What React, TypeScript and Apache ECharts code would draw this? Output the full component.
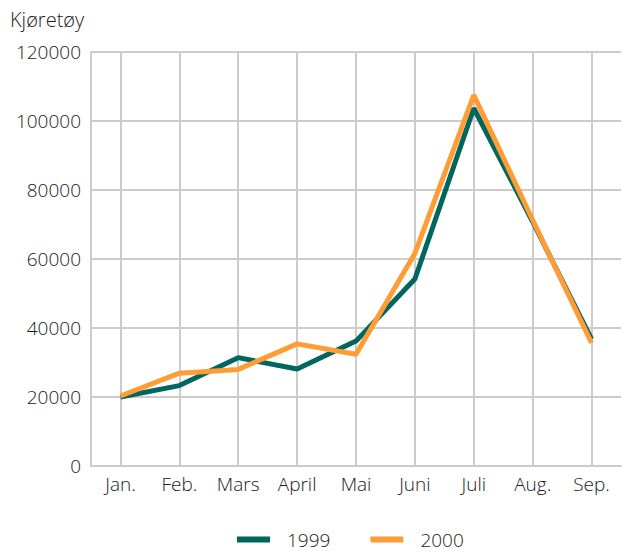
import React, { useEffect, useRef } from "react";
import * as echarts from "echarts";

const categories = ["Jan.", "Feb.", "Mars", "April", "Mai", "Juni", "Juli", "Aug.", "Sep."];
const series1999 = [20000, 23300, 31400, 28100, 36200, 54200, 103700, 70800, 36800];
const series2000 = [20300, 26900, 28000, 35400, 32400, 61600, 107500, 71300, 35700];
const yTicks = { min: 0, max: 120000, interval: 20000 };

const FONT = "'Open Sans', 'Noto Sans', sans-serif";
const TXT = "#1a1a1a";

export default function App() {
  const ref = useRef<HTMLDivElement>(null);
  useEffect(() => {
    document.body.style.margin = "0";
    if (!ref.current) return;
    const chart = echarts.init(ref.current, undefined, { renderer: "svg" });
    chart.setOption({
      animation: false,
      backgroundColor: "#ffffff",
      textStyle: { fontFamily: FONT },
      graphic: [
        {
          type: "text",
          left: 10,
          top: 9,
          style: { text: "Kjøretøy", fontSize: 20, fontWeight: 300, fontFamily: FONT, fill: TXT },
        },
      ],
      grid: { left: 91, top: 52, right: 3, bottom: 88, containLabel: false },
      legend: {
        bottom: 0,
        left: 232,
        icon: "rect",
        itemWidth: 33,
        itemHeight: 6,
        itemGap: 40,
        textStyle: { fontSize: 19, fontWeight: 300, color: TXT, fontFamily: FONT, padding: [0, 0, 0, 12] },
        data: ["1999", "2000"],
      },
      xAxis: {
        type: "category",
        data: categories,
        boundaryGap: true,
        axisLine: { show: true, lineStyle: { color: "#cccccc", width: 2 } },
        axisTick: { show: false },
        axisLabel: { fontSize: 19, fontWeight: 300, color: TXT, margin: 8, fontFamily: FONT },
        splitLine: { show: true, alignWithLabel: true, lineStyle: { color: "#cccccc", width: 2 } },
      },
      yAxis: {
        type: "value",
        min: yTicks.min,
        max: yTicks.max,
        interval: yTicks.interval,
        axisLine: { show: true, lineStyle: { color: "#cccccc", width: 2 } },
        axisTick: { show: false },
        axisLabel: {
          fontSize: 19,
          fontWeight: 300,
          color: TXT,
          margin: 10,
          fontFamily: FONT,
          formatter: (v: number) => String(v),
        },
        splitLine: { show: true, lineStyle: { color: "#cccccc", width: 2 } },
      },
      series: [
        {
          name: "1999",
          type: "line",
          data: series1999,
          symbol: "none",
          lineStyle: { color: "#00665e", width: 5 },
          itemStyle: { color: "#00665e" },
          z: 3,
        },
        {
          name: "2000",
          type: "line",
          data: series2000,
          symbol: "none",
          lineStyle: { color: "#ff9c33", width: 5 },
          itemStyle: { color: "#ff9c33" },
          z: 4,
        },
      ],
    });
    return () => chart.dispose();
  }, []);
  return <div ref={ref} style={{ width: 624, height: 554 }} />;
}
